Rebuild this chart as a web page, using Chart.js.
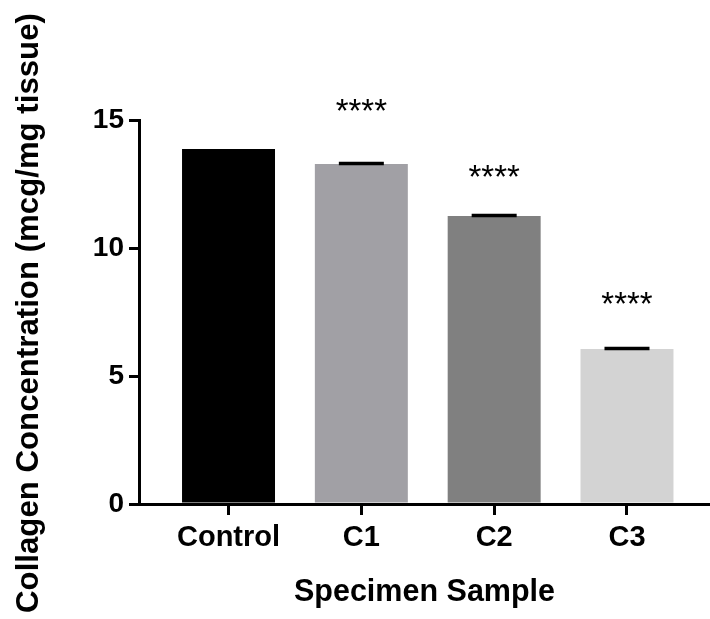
<!DOCTYPE html>
<html>
<head>
<meta charset="utf-8">
<script src="https://cdn.jsdelivr.net/npm/chart.js@4/dist/chart.umd.min.js"></script>
<style>
  html, body { margin: 0; padding: 0; background: #ffffff; }
  #wrap { width: 710px; height: 619px; position: relative; }
</style>
</head>
<body>
<div id="wrap"><canvas id="c"></canvas></div>
<script>
// ---- data ----
const categories = ["Control", "C1", "C2", "C3"];
const values = [13.87, 13.28, 11.25, 6.05];
const errors = [0.0, 0.02, 0.02, 0.02];
const barColors = ["#000000", "#a1a0a5", "#808080", "#d3d3d3"];
const significance = ["", "****", "****", "****"];
const significanceY = [null, 15.66, 13.05, 8.12];
const yTicks = [0, 5, 10, 15];
const yTitle = "Collagen Concentration (mcg/mg tissue)";
const xTitle = "Specimen Sample";

const FONT = "'Liberation Sans', Arial, Helvetica, sans-serif";

const annotate = {
  id: 'annotate',
  afterDatasetsDraw(chart) {
    const ctx = chart.ctx;
    const xs = chart.scales.x, ys = chart.scales.y;
    ctx.save();
    // error bars (caps)
    ctx.strokeStyle = '#000';
    ctx.lineWidth = 3.5;
    values.forEach((v, i) => {
      if (!errors[i]) return;
      const x = xs.getPixelForValue(i);
      const yTop = ys.getPixelForValue(v + errors[i]);
      const yBot = ys.getPixelForValue(v - errors[i]);
      ctx.beginPath();
      ctx.moveTo(x, yTop); ctx.lineTo(x, yBot);
      ctx.moveTo(x - 22.5, yTop); ctx.lineTo(x + 22.5, yTop);
      ctx.stroke();
    });
    // significance stars
    const fs = 33;
    ctx.fillStyle = '#000';
    ctx.font = `${fs}px ${FONT}`;
    ctx.textAlign = 'center';
    ctx.textBaseline = 'alphabetic';
    significance.forEach((s, i) => {
      if (!s) return;
      const x = xs.getPixelForValue(i);
      const y = ys.getPixelForValue(significanceY[i]);
      ctx.fillText(s, x, y + 0.56 * fs);
    });
    ctx.restore();
  },
  afterDraw(chart) {
    // rotated y-axis title, fitted to the span used in the reference
    const ctx = chart.ctx;
    ctx.save();
    let fs = 31;
    ctx.font = `bold ${fs}px ${FONT}`;
    const w = ctx.measureText(yTitle).width;
    const target = 600;
    fs = fs * target / w;
    ctx.font = `bold ${fs}px ${FONT}`;
    ctx.translate(38, 313);
    ctx.rotate(-Math.PI / 2);
    ctx.fillStyle = '#000';
    ctx.textAlign = 'center';
    ctx.textBaseline = 'alphabetic';
    ctx.fillText(yTitle, 0, 0);
    ctx.restore();
  }
};

new Chart(document.getElementById('c'), {
  type: 'bar',
  data: {
    datasets: [{
      data: categories.map((c, i) => ({ x: i, y: values[i] })),
      backgroundColor: barColors,
      borderWidth: 0,
      barPercentage: 0.7,
      categoryPercentage: 1.0
    }]
  },
  options: {
    responsive: true,
    maintainAspectRatio: false,
    animation: false,
    events: [],
    layout: { padding: { top: 120, left: 0, right: 0, bottom: 0 } },
    plugins: { legend: { display: false }, tooltip: { enabled: false } },
    scales: {
      x: {
        type: 'linear',
        min: -0.674,
        max: 3.625,
        offset: false,
        afterBuildTicks(scale) { scale.ticks = categories.map((c, i) => ({ value: i })); },
        afterFit(scale) { scale.height = 115; },
        ticks: {
          autoSkip: false, maxRotation: 0, minRotation: 0,
          color: '#000',
          padding: 6,
          font: { family: FONT, size: 29, weight: 'bold' },
          callback: (v) => categories[v]
        },
        grid: { offset: false, drawOnChartArea: false, drawTicks: true, tickLength: 11, color: '#000', lineWidth: 3 },
        border: { display: true, color: '#000', width: 3 },
        title: {
          display: true, text: xTitle, color: '#000',
          font: { family: FONT, size: 30.5, weight: 'bold' },
          padding: { top: 0, bottom: 8 }
        }
      },
      y: {
        min: 0, max: 15,
        afterBuildTicks(scale) { scale.ticks = yTicks.map(v => ({ value: v })); },
        afterFit(scale) { scale.width = 139; },
        ticks: {
          color: '#000', padding: 5,
          font: { family: FONT, size: 28, weight: 'bold' }
        },
        grid: { drawOnChartArea: false, drawTicks: true, tickLength: 10, color: '#000', lineWidth: 3 },
        border: { display: true, color: '#000', width: 3 },
        title: { display: false }
      }
    }
  },
  plugins: [annotate]
});
</script>
</body>
</html>
